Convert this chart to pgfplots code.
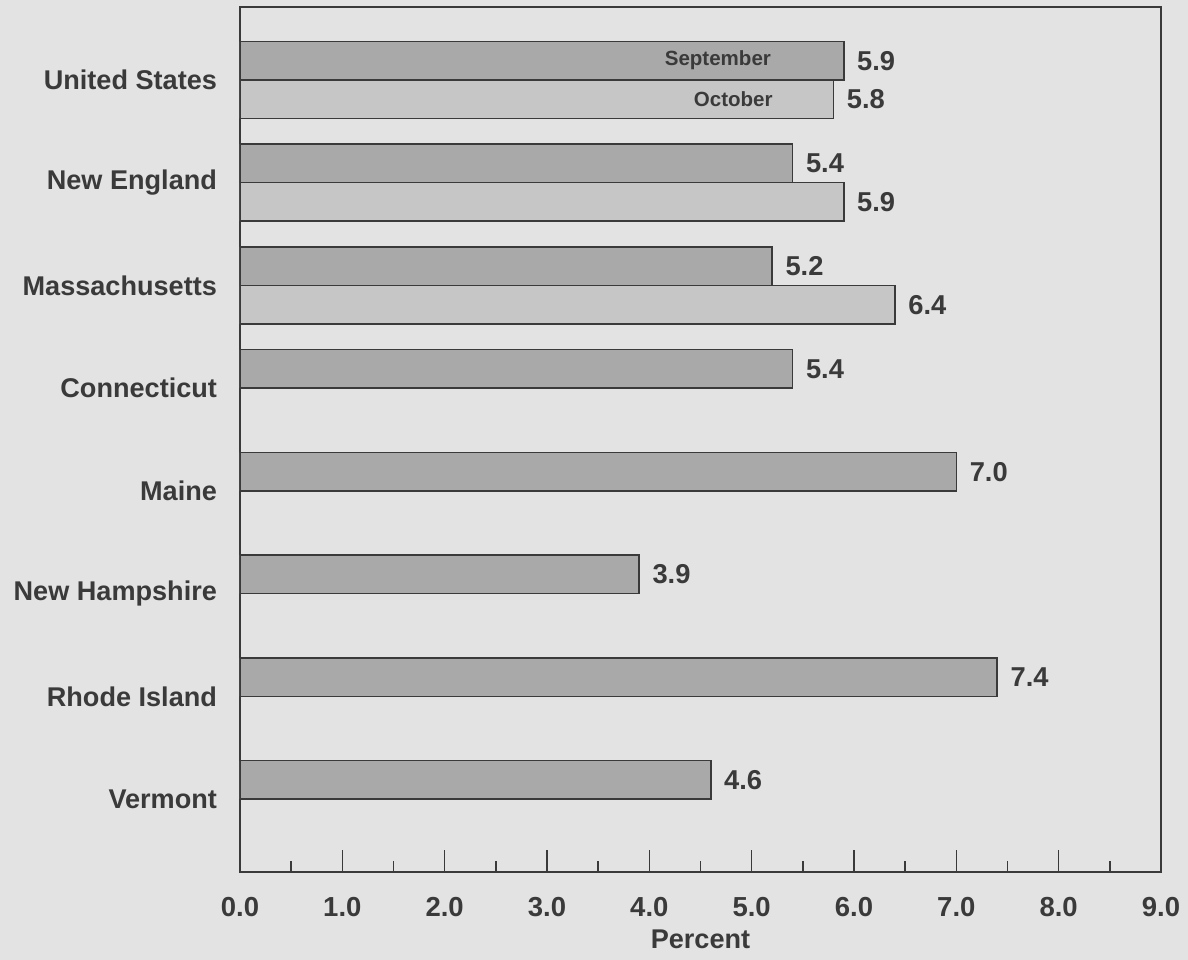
\documentclass[border=0pt]{standalone}
\usepackage{pgfplots}
\pgfplotsset{compat=1.18}
\usepackage{fontspec}
\setmainfont{Liberation Sans}
\definecolor{paper}{HTML}{E3E3E3}
\definecolor{ink}{HTML}{3A3A3A}
\definecolor{sepfill}{HTML}{A9A9A9}
\definecolor{octfill}{HTML}{C6C6C6}
\begin{document}
\begin{tikzpicture}
\path[use as bounding box, fill=paper] (-120bp,-44bp) rectangle (474bp,436bp);
\begin{axis}[
  scale only axis,
  width=460.5bp, height=432.5bp,
  xmin=0, xmax=9,
  ymin=-0.71, ymax=7.71,
  y dir=reverse,
  axis line style={ink, line width=1pt},
  xtick={0,1,...,9},
  minor x tick num=1,
  xtick pos=bottom,
  tick align=inside,
  major tick length=11bp,
  minor tick length=5.5bp,
  tick style={ink, line width=0.8pt},
  ytick={0,1,...,7},
  yticklabels={United States,New England,Massachusetts,Connecticut,Maine,New Hampshire,Rhode Island,Vermont},
  ytick style={draw=none},
  yticklabel style={font=\bfseries\fontsize{13.6}{16}\selectfont, text=ink, xshift=3bp},
  xticklabel style={font=\bfseries\fontsize{13.8}{16}\selectfont, text=ink, yshift=-9bp},
  /pgf/number format/assume math mode=true,
  xticklabel={\pgfmathprintnumber[fixed,fixed zerofill,precision=1]{\tick}},
  xlabel={Percent},
  xlabel style={font=\bfseries\fontsize{13.6}{16}\selectfont, text=ink, yshift=0bp},
  xbar,
  bar width=0.375,
  nodes near coords,
  nodes near coords style={font=\bfseries\fontsize{13.7}{16}\selectfont, text=ink, anchor=west, xshift=3bp,
    /pgf/number format/.cd, fixed, fixed zerofill, precision=1},
]
% September values
\addplot[bar shift=-0.1875, fill=sepfill, draw=ink, line width=0.8pt] coordinates {
  (5.9,0) (5.4,1) (5.2,2) (5.4,3) (7.0,4) (3.9,5) (7.4,6) (4.6,7)
};
% October values (United States, New England and Massachusetts only)
\addplot[bar shift=0.1875, fill=octfill, draw=ink, line width=0.8pt] coordinates {
  (5.8,0) (5.9,1) (6.4,2)
};
\node[font=\bfseries\fontsize{10.3}{12}\selectfont, text=ink] at (axis cs:4.67,-0.1875) {September};
\node[font=\bfseries\fontsize{10.3}{12}\selectfont, text=ink] at (axis cs:4.82,0.1875) {October};
\end{axis}
\end{tikzpicture}
\end{document}
